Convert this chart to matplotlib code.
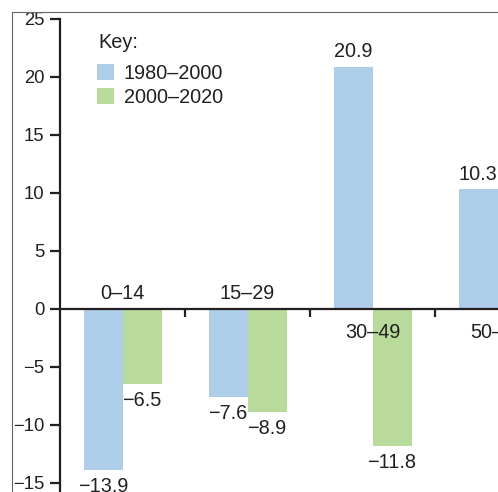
import matplotlib
matplotlib.use('Agg')
import matplotlib.pyplot as plt
from matplotlib.lines import Line2D
import numpy as np

plt.rcParams['font.family'] = ['Liberation Sans', 'DejaVu Sans']

age_groups = ['0–14', '15–29', '30–49', '50–64']
change_1980_2000 = [-13.9, -7.6, 20.9, 10.3]
change_2000_2020 = [-6.5, -8.9, -11.8, 18.0]
series_labels = ['1980–2000', '2000–2020']
y_ticks = [-15, -10, -5, 0, 5, 10, 15, 20, 25]

BLUE = '#aecde9'
GREEN = '#b8da9b'
INK = '#231f20'
W, H = 498, 492
FS = 14.3

fig = plt.figure(figsize=(W / 100, H / 100), dpi=100)
ax = fig.add_axes([60 / W, 0, 439.5 / W, (H - 19) / H])

x = np.arange(len(age_groups))
bw = 0.312
b1 = ax.bar(x - bw / 2, change_1980_2000, bw, color=BLUE, label=series_labels[0])
b2 = ax.bar(x + bw / 2, change_2000_2020, bw, color=GREEN, label=series_labels[1])

def fmt(v):
    return f'{v:.1f}'.replace('-', '\u2212')

for bars, vals in ((b1, change_1980_2000), (b2, change_2000_2020)):
    for rect, v in zip(bars, vals):
        cx = rect.get_x() + rect.get_width() / 2
        off = 10.5 if v > 0 else -12
        ax.annotate(fmt(v), (cx, v), xytext=(0, off), textcoords='offset points',
                    ha='center', va='center', fontsize=FS, color=INK)

# category labels sit on the side opposite the first bar
for xi, name, v in zip(x, age_groups, change_1980_2000):
    off = 11 if v < 0 else -17
    ax.annotate(name, (xi, 0), xytext=(0, off), textcoords='offset points',
                ha='center', va='center', fontsize=FS, color=INK)

ax.set_xlim(-0.5, 3.016)
ax.set_ylim(-15.8, 25)
ax.set_yticks(y_ticks)
ax.set_xticks(x[:-1] + 0.5)
ax.set_xticklabels([])
ax.tick_params(axis='y', direction='out', length=7, width=1.6, pad=4,
               labelsize=13.3, labelcolor=INK, color=INK)
ax.tick_params(axis='x', direction='out', length=6, width=1.6, color=INK)

for s in ('top', 'right'):
    ax.spines[s].set_visible(False)
ax.spines['left'].set_linewidth(1.6)
ax.spines['left'].set_color(INK)
ax.spines['bottom'].set_position(('data', 0))
ax.spines['bottom'].set_linewidth(1.6)
ax.spines['bottom'].set_color(INK)

fig.text(98 / W, 1 - 42 / H, 'Key:', fontsize=FS, color=INK, ha='left', va='center')
leg = ax.legend(loc='upper left', bbox_to_anchor=(97 / W, 1 - 64 / H),
                bbox_transform=fig.transFigure, frameon=False, fontsize=FS,
                handlelength=0.85, handleheight=0.85, handletextpad=0.5,
                labelspacing=0.25, borderpad=0, borderaxespad=0)
for t in leg.get_texts():
    t.set_color(INK)

# thin frame from the page the chart was cut out of
fig.add_artist(Line2D([12 / W, 12 / W], [0, 1 - 12 / H], color='#666666', lw=0.8))
fig.add_artist(Line2D([12 / W, 1], [1 - 12 / H, 1 - 12 / H], color='#666666', lw=0.8))

fig.savefig('out.png', dpi=100)
